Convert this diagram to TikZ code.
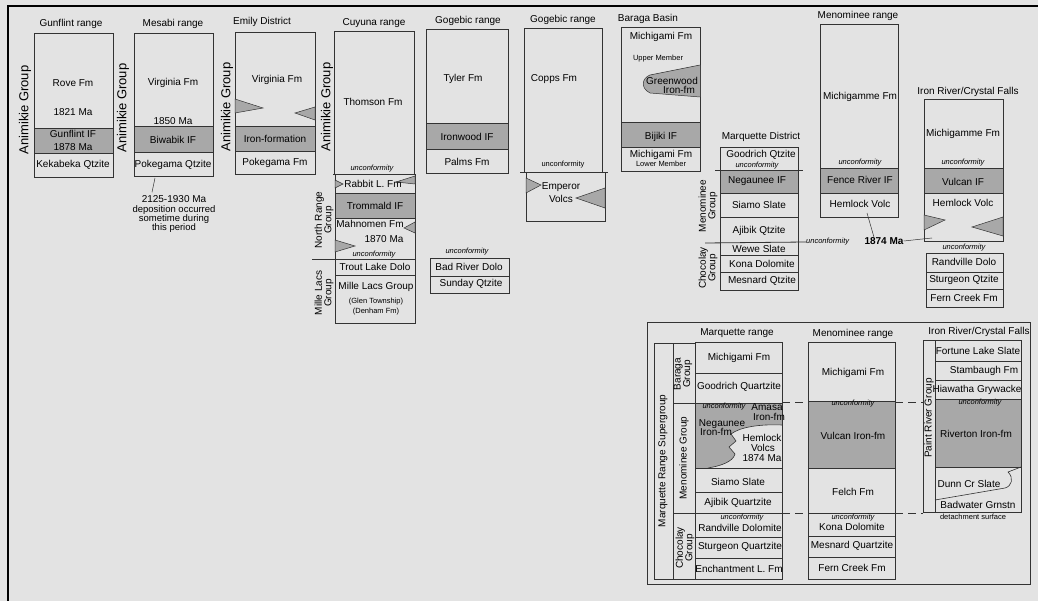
\documentclass[tikz,border=0pt]{standalone}
\usepackage{fontspec}
\setmainfont{Liberation Sans}
\definecolor{paper}{gray}{0.89}
\definecolor{ironfill}{gray}{0.66}
\definecolor{ink}{gray}{0.2}

\begin{document}
\begin{tikzpicture}[x=1pt, y=-1pt,
    layer/.style={draw=ink, line width=0.8pt},
    iron/.style={fill=ironfill},
    tongue/.style={fill=ironfill, draw=ink, line width=0.5pt},
    lbl/.style={font=\fontsize{10}{10}\selectfont, inner sep=0pt},
    ttl/.style={font=\fontsize{10}{10}\selectfont, inner sep=0pt},
    sml/.style={font=\fontsize{7.5}{8}\selectfont, inner sep=0pt, align=center},
    unc/.style={font=\itshape\fontsize{7.5}{8}\selectfont, inner sep=0pt},
    grp/.style={rotate=90, font=\fontsize{13}{14}\selectfont, inner sep=0pt},
    subgrp/.style={rotate=90, font=\fontsize{10}{9.5}\selectfont, inner sep=0pt, align=center},
    corr/.style={draw=ink, line width=0.6pt, dash pattern=on 8pt off 5pt}
  ]

\fill[paper] (0,0) rectangle (1038,601);
\useasboundingbox (0,0) rectangle (1038,601);
\draw[line width=2.5pt] (8,601) -- (8,6) -- (1038,6);

% Gunflint range
\node[ttl] (gunT) at (71,24) {Gunflint range};
\fill[iron] (34,128) rectangle (113,153);
\draw[layer] (34,33) rectangle (113,177);
\draw[layer] (34,128) -- (113,128) (34,153) -- (113,153);
\node[lbl] (rove) at (73,83) {Rove Fm};
\node[lbl] (roveMa) at (73,112) {1821 Ma};
\node[lbl] (gunIF) at (73,134) {Gunflint IF};
\node[lbl] (gunMa) at (73,147) {1878 Ma};
\node[lbl] (kek) at (73,165) {Kekabeka Qtzite};
\node[grp] (animA) at (25,110) {Animikie Group};

% Mesabi range
\node[ttl] (mesT) at (173,24) {Mesabi range};
\fill[iron] (134,126) rectangle (213,152);
\draw[layer] (134,33) rectangle (213,176);
\draw[layer] (134,126) -- (213,126) (134,152) -- (213,152);
\node[lbl] (virgA) at (173,83) {Virginia Fm};
\node[lbl] (virgMa) at (173,121) {1850 Ma};
\node[lbl] (biw) at (173,140) {Biwabik IF};
\node[lbl] (pokQ) at (173,165) {Pokegama Qtzite};
\node[grp] (animB) at (123,108) {Animikie Group};
\node[lbl] (age) at (174,199) {2125-1930 Ma};
\node[lbl, align=center, font=\fontsize{9.5}{9}\selectfont] (dep) at (174,219) {deposition occurred\\sometime during\\this period};
\coordinate (pokB) at (155,178);
\draw[ink, line width=0.5pt] (pokB) -- ([xshift=-22pt, yshift=3pt]age.north);

% Emily District
\node[ttl] (emT) at (262,22) {Emily District};
\fill[iron] (235,126) rectangle (315,151);
\draw[layer] (235,32) rectangle (315,174);
\draw[layer] (235,126) -- (315,126) (235,151) -- (315,151);
\filldraw[tongue] (235,99) -- (263,108) -- (235,113) -- cycle;
\filldraw[tongue] (315,107) -- (295,113) -- (315,120) -- cycle;
\node[lbl] (virgB) at (277,80) {Virginia Fm};
\node[lbl] (ironfm) at (275,139) {Iron-formation};
\node[lbl] (pokF) at (275,163) {Pokegama Fm};
\node[grp] (animC) at (227,107) {Animikie Group};

% Cuyuna range
\node[ttl] (cuyT) at (374,23) {Cuyuna range};
\fill[iron] (335,193) rectangle (415,218);
\draw[layer] (334,31) rectangle (414,174);
\draw[layer] (333,174) -- (416,174);
\draw[layer] (335,174) -- (335,323) -- (415,323) -- (415,174);
\draw[layer] (335,193) -- (415,193) (335,218) -- (415,218);
\draw[layer] (312,259) -- (415,259) (335,275) -- (415,275);
\filldraw[tongue] (335,180) -- (343,184) -- (335,188) -- cycle;
\filldraw[tongue] (415,176) -- (396,182) -- (415,184) -- cycle;
\filldraw[tongue] (415,222) -- (404,228) -- (415,233) -- cycle;
\filldraw[tongue] (335,240) -- (355,246) -- (335,252) -- cycle;
\node[lbl] (thom) at (373,102) {Thomson Fm};
\node[unc] (uncC) at (372,169) {unconformity};
\node[lbl] (rabbit) at (373,184) {Rabbit L. Fm};
\node[lbl] (tromm) at (375,206) {Trommald IF};
\node[lbl] (mahn) at (370,224) {Mahnomen Fm};
\node[lbl] (mahnMa) at (384,239) {1870 Ma};
\node[unc] (uncD) at (374,255) {unconformity};
\node[lbl] (trout) at (375,267) {Trout Lake Dolo};
\node[lbl] (mille) at (376,287) {Mille Lacs Group};
\node[sml] (glen) at (376,302) {(Glen Township)};
\node[sml] (denh) at (376,312) {(Denham Fm)};
\node[grp] (animD) at (327,107) {Animikie Group};
\node[subgrp] (nrg) at (324,220) {North Range\\Group};
\node[subgrp] (mlg) at (324,293) {Mille Lacs\\Group};

% Gogebic range (west)
\node[ttl] (gogT) at (468,21) {Gogebic range};
\fill[iron] (426,123) rectangle (508,149);
\draw[layer] (426,29) rectangle (508,173);
\draw[layer] (426,123) -- (508,123) (426,149) -- (508,149);
\node[lbl] (tyler) at (463,79) {Tyler Fm};
\node[lbl] (ironw) at (467,137) {Ironwood IF};
\node[lbl] (palms) at (467,162) {Palms Fm};
\node[unc] (uncE) at (467,252) {unconformity};
\draw[layer] (430,258) rectangle (509,293);
\draw[layer] (430,276) -- (509,276);
\node[lbl] (badr) at (469,267) {Bad River Dolo};
\node[lbl] (sund) at (471,284) {Sunday Qtzite};

% Gogebic range (east)
\node[ttl] (gogU) at (563,20) {Gogebic range};
\draw[layer] (524,172) -- (524,28) -- (602,28) -- (602,172);
\draw[layer] (520,172) -- (608,172);
\draw[layer] (526,172) -- (526,221) -- (605,221) -- (605,172);
\filldraw[tongue] (526,178) -- (541,185) -- (526,193) -- cycle;
\filldraw[tongue] (605,188) -- (576,198) -- (605,208) -- cycle;
\node[lbl] (copps) at (554,79) {Copps Fm};
\node[sml] (uncF) at (563,165) {unconformity};
\node[lbl] (emp) at (561,187) {Emperor};
\node[lbl] (volcs) at (561,199) {Volcs};

% Baraga Basin
\node[ttl] (barT) at (648,19) {Baraga Basin};
\fill[iron] (621,122) rectangle (700,147);
\draw[layer] (621,27) rectangle (700,171);
\draw[layer] (621,122) -- (700,122) (621,147) -- (700,147);
\filldraw[tongue] (700,65) -- (650,75) .. controls (642,78) and (640,88) .. (650,93) -- (700,97);
\node[lbl] (michA) at (661,37) {Michigami Fm};
\node[sml] (upper) at (658,59) {Upper Member};
\node[lbl] (green) at (672,81) {Greenwood};
\node[lbl] (greenI) at (679,90) {Iron-fm};
\node[lbl] (bij) at (661,137) {Bijiki IF};
\node[lbl] (michB) at (661,155) {Michigami Fm};
\node[sml] (lower) at (661,164) {Lower Member};

% Marquette District
\node[ttl] (mqT) at (761,137) {Marquette District};
\fill[iron] (720,170) rectangle (798,193);
\draw[layer] (720,147) rectangle (798,290);
\draw[layer] (715,170) -- (803,170) (720,193) -- (798,193) (720,217) -- (798,217);
\draw[layer] (720,255) -- (798,255) (720,272) -- (798,272);
\node[lbl] (good) at (761,155) {Goodrich Qtzite};
\node[unc] (uncG) at (757,165.5) {unconformity};
\node[lbl] (neg) at (757,181) {Negaunee IF};
\node[lbl] (siamo) at (759,205) {Siamo Slate};
\node[lbl] (ajib) at (759,231) {Ajibik Qtzite};
\node[lbl] (wewe) at (759,249) {Wewe Slate};
\node[lbl] (kona) at (762,264) {Kona Dolomite};
\node[lbl] (mesn) at (762,281) {Mesnard Qtzite};
\node[subgrp] (menG) at (708,206) {Menominee\\Group};
\node[subgrp] (chocG) at (708,268) {Chocolay\\Group};
\node[unc, anchor=west] (uncH) at (806,242) {unconformity};
\coordinate (mqW) at (705,243);
\draw[layer] (mqW) -- (uncH.west);

% Menominee range
\node[ttl] (menT) at (858,16) {Menominee range};
\fill[iron] (820,168) rectangle (898,193);
\draw[layer] (820,24) rectangle (898,217);
\draw[layer] (820,168) -- (898,168) (820,193) -- (898,193);
\node[lbl] (michC) at (860,97) {Michigamme Fm};
\node[unc] (uncI) at (860,163) {unconformity};
\node[lbl] (fence) at (860,180) {Fence River IF};
\node[lbl] (hemA) at (860,204) {Hemlock Volc};
\node[lbl, font=\bfseries\fontsize{10}{10}\selectfont] (ma1874) at (884,241) {1874 Ma};
\coordinate (hemAp) at (867,213);
\coordinate (hemBp) at (932,238);
\draw[ink, line width=0.5pt] ([xshift=-10pt]ma1874.north) -- (hemAp);
\draw[ink, line width=0.5pt] (ma1874.east) -- (hemBp);

% Iron River/Crystal Falls
\node[ttl] (irT) at (968,92) {Iron River/Crystal Falls};
\fill[iron] (924,168) rectangle (1003,193);
\draw[layer] (924,99) rectangle (1003,241);
\draw[layer] (924,168) -- (1003,168) (924,193) -- (1003,193);
\filldraw[tongue] (924,215) -- (945,220) -- (924,230) -- cycle;
\filldraw[tongue] (1003,217) -- (972,227) -- (1003,236) -- cycle;
\node[lbl] (michD) at (963,134) {Michigamme Fm};
\node[unc] (uncJ) at (963,163) {unconformity};
\node[lbl] (vulc) at (963,182) {Vulcan IF};
\node[lbl] (hemB) at (963,203) {Hemlock Volc};
\node[unc] (uncK) at (964,248) {unconformity};
\draw[layer] (926,253) rectangle (1003,307);
\draw[layer] (926,272) -- (1003,272) (926,289) -- (1003,289);
\node[lbl] (randA) at (964,262) {Randville Dolo};
\node[lbl] (sturA) at (964,280) {Sturgeon Qtzite};
\node[lbl] (fernA) at (964,298) {Fern Creek Fm};

% correlation panel
\draw[draw=ink, line width=1pt] (647,323) rectangle (1030,584);

% Marquette range
\node[ttl] (mrT) at (737,333) {Marquette range};
\fill[iron] (695,403) rectangle (782,468);
\fill[paper] (782,425) .. controls (760,424) and (740,427) .. (731,434) -- (736,441) -- (729,447) -- (735,454)
  .. controls (733,462) and (720,466) .. (708,468) -- (782,468) -- cycle;
\draw[ink, line width=0.6pt] (782,425) .. controls (760,424) and (740,427) .. (731,434) -- (736,441) -- (729,447) -- (735,454)
  .. controls (733,462) and (720,466) .. (708,468);
\draw[layer] (654,343) rectangle (673,579);
\draw[layer] (673,343) rectangle (695,579);
\draw[layer] (695,342) rectangle (782,579);
\draw[layer] (673,403) -- (782,403) (673,513) -- (782,513);
\draw[layer] (695,373) -- (782,373) (695,468) -- (782,468) (695,492) -- (782,492);
\draw[layer] (695,537) -- (782,537) (695,558) -- (782,558);
\node[subgrp] (mrs) at (663,461) {Marquette Range Supergroup};
\node[subgrp] (barG) at (683,374) {Baraga\\Group};
\node[subgrp] (menH) at (684,458) {Menominee Group};
\node[subgrp] (chocH) at (685,548) {Chocolay\\Group};
\node[lbl] (michE) at (739,358) {Michigami Fm};
\node[lbl] (goodQ) at (739,387) {Goodrich Quartzite};
\node[unc] (uncL) at (724,407) {unconformity};
\node[lbl] (amasa) at (767,407) {Amasa};
\node[lbl] (amasaI) at (769,417) {Iron-fm};
\node[lbl] (negA) at (722,424) {Negaunee};
\node[lbl] (negI) at (716,432) {Iron-fm};
\node[lbl] (hemC) at (762,438) {Hemlock};
\node[lbl] (hemV) at (763,448) {Volcs};
\node[lbl] (hemMa) at (762,458) {1874 Ma};
\node[lbl] (siamoQ) at (738,482) {Siamo Slate};
\node[lbl] (ajibQ) at (738,503) {Ajibik Quartzite};
\node[unc] (uncM) at (742,518) {unconformity};
\node[lbl] (randB) at (740,528) {Randville Dolomite};
\node[lbl] (sturB) at (740,547) {Sturgeon Quartzite};
\node[lbl] (ench) at (739,569) {Enchantment L. Fm};

% Menominee range (panel)
\node[ttl] (mnT) at (853,334) {Menominee range};
\fill[iron] (808,401) rectangle (895,468);
\draw[layer] (808,342) rectangle (895,579);
\draw[layer] (808,401) -- (895,401) (808,468) -- (895,468) (808,513) -- (895,513);
\draw[layer] (808,536) -- (895,536) (808,557) -- (895,557);
\node[lbl] (michF) at (853,373) {Michigami Fm};
\node[unc] (uncN) at (853,404) {unconformity};
\node[lbl] (vulcI) at (853,436) {Vulcan Iron-fm};
\node[lbl] (felch) at (853,492) {Felch Fm};
\node[unc] (uncO) at (853,518) {unconformity};
\node[lbl] (konaQ) at (852,527) {Kona Dolomite};
\node[lbl] (mesnQ) at (852,546) {Mesnard Quartzite};
\node[lbl] (fernB) at (852,568) {Fern Creek Fm};

% Iron River/Crystal Falls (panel)
\node[ttl] (icT) at (979,332) {Iron River/Crystal Falls};
\fill[iron] (935,399) rectangle (1021,467);
\draw[layer] (923,340) rectangle (935,512);
\draw[layer] (935,340) rectangle (1021,512);
\draw[layer] (935,361) -- (1021,361) (935,380) -- (1021,380) (935,399) -- (1021,399) (935,467) -- (1021,467);
\draw[ink, line width=0.6pt] (1021,467) -- (1008,472) .. controls (1014,478) and (1012,486) .. (1005,488) -- (935,500);
\node[subgrp] (prg) at (929,418) {Paint River Group};
\node[lbl] (fort) at (978,351) {Fortune Lake Slate};
\node[lbl] (stamb) at (984,371) {Stambaugh Fm};
\node[lbl] (hiaw) at (977,390) {Hiawatha Grywacke};
\node[unc] (uncP) at (980,403) {unconformity};
\node[lbl] (rivert) at (976,434) {Riverton Iron-fm};
\node[lbl] (dunn) at (969,484) {Dunn Cr Slate};
\node[lbl] (badw) at (978,505) {Badwater Grnstn};
\node[sml] (detach) at (973,517) {detachment surface};

% correlation lines
\draw[corr] (782,402) -- (808,402) (895,402) -- (923,402);
\draw[corr] (782,513) -- (808,513) (895,513) -- (923,513);

\end{tikzpicture}
\end{document}
